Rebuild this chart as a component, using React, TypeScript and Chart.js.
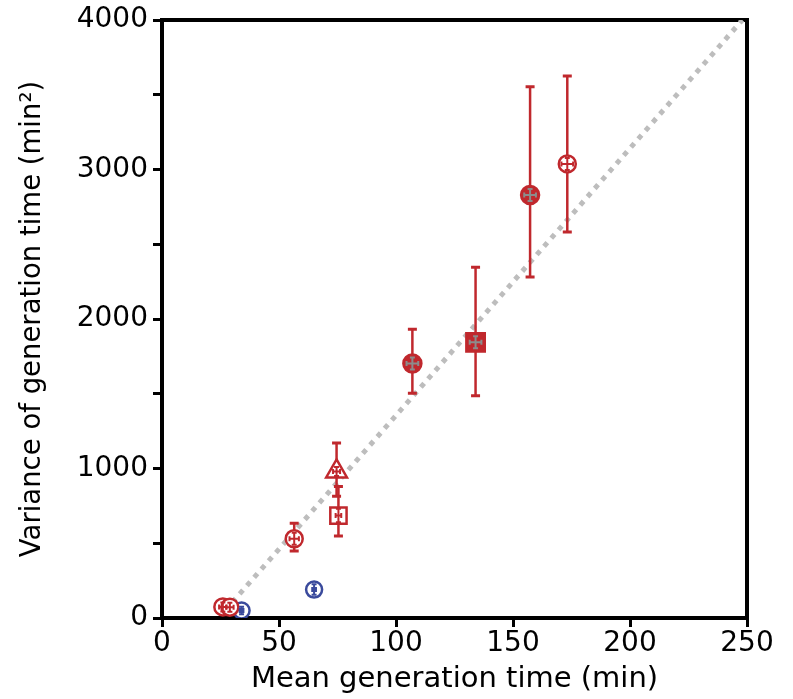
import React, { useEffect, useRef } from 'react';
import { Chart, registerables } from 'chart.js';

Chart.register(...registerables);

const RED = '#c0282d';
const BLUE = '#3a4a9c';
const INNER_GRAY = '#8c8c8c';
const LINE_GRAY = '#bdbdbd';

// Guide line (dashed)
const guideX = [27, 248];
const guideY = [50, 4000];

// Red open circles
const redOpenCircleX = [26, 29, 56.5, 173.2];
const redOpenCircleY = [74, 72, 530, 3037];
const redOpenCircleLo = [45, 45, 448, 2582];
const redOpenCircleHi = [105, 100, 633, 3625];
const redOpenCircleXErr = [1.6, 1.6, 2.0, 2.5];
const redOpenCircleInErr = [30, 30, 40, 40];

// Red filled circles
const redFilledCircleX = [107, 157.3];
const redFilledCircleY = [1703, 2829];
const redFilledCircleLo = [1503, 2281];
const redFilledCircleHi = [1931, 3554];
const redFilledCircleXErr = [2.5, 2.5];
const redFilledCircleInErr = [40, 40];

// Red filled square
const redFilledSquareX = [134];
const redFilledSquareY = [1844];
const redFilledSquareLo = [1487];
const redFilledSquareHi = [2346];
const redFilledSquareXErr = [2.5];
const redFilledSquareInErr = [40];

// Red open square
const redOpenSquareX = [75.4];
const redOpenSquareY = [685];
const redOpenSquareLo = [548];
const redOpenSquareHi = [880];
const redOpenSquareXErr = [1.2];
const redOpenSquareInErr = [45];

// Red open triangle
const redTriangleX = [74.6];
const redTriangleY = [980];
const redTriangleLo = [815];
const redTriangleHi = [1170];
const redTriangleXErr = [1.5];
const redTriangleInErr = [30];

// Blue open circles
const blueCircleX = [34, 65];
const blueCircleY = [50, 190];
const blueCircleLo = [30, 160];
const blueCircleHi = [70, 220];
const blueCircleXErr = [0.8, 0.8];
const blueCircleInErr = [25, 35];

const xTickStep = 50;
const yTickStep = 500;
const yLabelStep = 1000;

function pts(xs: number[], ys: number[]) {
  return xs.map((x, i) => ({ x, y: ys[i] }));
}

function markerSet(
  xs: number[], ys: number[], lo: number[], hi: number[], xErr: number[], inErr: number[],
  style: string, radius: number, color: string, filled: boolean
) {
  return {
    type: 'scatter',
    data: pts(xs, ys),
    pointStyle: style,
    pointRadius: radius,
    pointHoverRadius: radius,
    borderWidth: 2.5,
    borderColor: color,
    backgroundColor: filled ? color : '#ffffff',
    errLo: lo,
    errHi: hi,
    errX: xErr,
    errIn: inErr,
    errColor: color,
    innerColor: filled ? INNER_GRAY : color,
    order: 1,
  };
}

const frameAndBars = {
  id: 'frameAndBars',
  beforeDatasetsDraw(chart: any) {
    const { ctx, chartArea } = chart;
    ctx.save();
    ctx.strokeStyle = '#000';
    ctx.lineWidth = 4;
    ctx.strokeRect(chartArea.left, chartArea.top, chartArea.right - chartArea.left, chartArea.bottom - chartArea.top);
    ctx.restore();
  },
  afterDatasetDraw(chart: any, args: any) {
    if (args.index !== 0) return;
    const { ctx } = chart;
    const xs = chart.scales.x;
    const ys = chart.scales.y;
    ctx.save();
    ctx.lineCap = 'butt';
    chart.data.datasets.forEach((ds: any) => {
      if (!ds.errLo) return;
      ctx.strokeStyle = ds.errColor;
      ds.data.forEach((p: any, i: number) => {
        const px = xs.getPixelForValue(p.x);
        const top = ys.getPixelForValue(ds.errHi[i]);
        const bot = ys.getPixelForValue(ds.errLo[i]);
        ctx.lineWidth = 2.5;
        ctx.beginPath();
        ctx.moveTo(px, top);
        ctx.lineTo(px, bot);
        ctx.stroke();
        ctx.lineWidth = 3;
        ctx.beginPath();
        ctx.moveTo(px - 4.5, top);
        ctx.lineTo(px + 4.5, top);
        ctx.moveTo(px - 4.5, bot);
        ctx.lineTo(px + 4.5, bot);
        ctx.stroke();
      });
    });
    ctx.restore();
  },
  afterDatasetsDraw(chart: any) {
    const { ctx } = chart;
    const xs = chart.scales.x;
    const ys = chart.scales.y;
    ctx.save();
    chart.data.datasets.forEach((ds: any) => {
      if (!ds.errLo) return;
      ctx.strokeStyle = ds.innerColor;
      ctx.lineWidth = 2;
      ds.data.forEach((p: any, i: number) => {
        const px = xs.getPixelForValue(p.x);
        const py = ys.getPixelForValue(p.y);
        const l = xs.getPixelForValue(p.x - ds.errX[i]);
        const r = xs.getPixelForValue(p.x + ds.errX[i]);
        const t = ys.getPixelForValue(p.y + ds.errIn[i]);
        const b = ys.getPixelForValue(p.y - ds.errIn[i]);
        ctx.beginPath();
        ctx.moveTo(l, py); ctx.lineTo(r, py);
        ctx.moveTo(px, t); ctx.lineTo(px, b);
        ctx.moveTo(l, py - 2.5); ctx.lineTo(l, py + 2.5);
        ctx.moveTo(r, py - 2.5); ctx.lineTo(r, py + 2.5);
        ctx.moveTo(px - 2.5, t); ctx.lineTo(px + 2.5, t);
        ctx.moveTo(px - 2.5, b); ctx.lineTo(px + 2.5, b);
        ctx.stroke();
      });
    });
    ctx.restore();
  },
};

export default function App() {
  const ref = useRef<HTMLCanvasElement | null>(null);

  useEffect(() => {
    if (!ref.current) return;
    const font = 'DejaVu Sans';
    const chart = new Chart(ref.current, {
      type: 'scatter',
      data: {
        datasets: [
          {
            type: 'line',
            data: pts(guideX, guideY),
            borderColor: LINE_GRAY,
            borderWidth: 5,
            borderDash: [5, 6],
            pointRadius: 0,
            fill: false,
            showLine: true,
            order: 10,
          } as any,
          markerSet(redOpenCircleX, redOpenCircleY, redOpenCircleLo, redOpenCircleHi, redOpenCircleXErr, redOpenCircleInErr, 'circle', 8.5, RED, false),
          markerSet(redFilledCircleX, redFilledCircleY, redFilledCircleLo, redFilledCircleHi, redFilledCircleXErr, redFilledCircleInErr, 'circle', 9, RED, true),
          markerSet(redFilledSquareX, redFilledSquareY, redFilledSquareLo, redFilledSquareHi, redFilledSquareXErr, redFilledSquareInErr, 'rect', 13, RED, true),
          markerSet(redOpenSquareX, redOpenSquareY, redOpenSquareLo, redOpenSquareHi, redOpenSquareXErr, redOpenSquareInErr, 'rect', 11.5, RED, false),
          markerSet(redTriangleX, redTriangleY, redTriangleLo, redTriangleHi, redTriangleXErr, redTriangleInErr, 'triangle', 12, RED, false),
          markerSet(blueCircleX, blueCircleY, blueCircleLo, blueCircleHi, blueCircleXErr, blueCircleInErr, 'circle', 8, BLUE, false),
        ] as any,
      },
      options: {
        animation: false,
        responsive: false,
        maintainAspectRatio: false,
        layout: { padding: { top: 20, right: 46, left: 0, bottom: 0 } },
        plugins: {
          legend: { display: false },
          tooltip: { enabled: false },
        },
        scales: {
          x: {
            type: 'linear',
            min: 0,
            max: 250,
            border: { display: false },
            grid: {
              drawOnChartArea: false,
              drawTicks: true,
              tickLength: 9,
              tickWidth: 3,
              tickColor: '#000',
            },
            ticks: {
              stepSize: xTickStep,
              color: '#000',
              padding: 3,
              font: { family: font, size: 28, lineHeight: 1 },
              maxRotation: 0,
            },
            title: {
              display: true,
              text: 'Mean generation time (min)',
              color: '#000',
              font: { family: font, size: 29, lineHeight: 1.2 },
              padding: { top: 0, bottom: 2 },
            },
            afterFit: (s: any) => { s.height = 81; },
          },
          y: {
            type: 'linear',
            min: 0,
            max: 4000,
            border: { display: false },
            grid: {
              drawOnChartArea: false,
              drawTicks: true,
              tickLength: 9,
              tickWidth: 3,
              tickColor: '#000',
            },
            ticks: {
              stepSize: yTickStep,
              autoSkip: false,
              color: '#000',
              padding: 5,
              font: { family: font, size: 28, lineHeight: 1 },
              callback: (v: any) => (Number(v) % yLabelStep === 0 ? String(v) : ''),
            },
            title: {
              display: true,
              text: 'Variance of generation time (min²)',
              color: '#000',
              font: { family: font, size: 27.5, lineHeight: 1.2 },
              padding: { top: 16, bottom: 0 },
            },
            afterFit: (s: any) => { s.width = 162; },
          },
        },
      } as any,
      plugins: [frameAndBars],
    });
    return () => chart.destroy();
  }, []);

  return (
    <div style={{ position: 'absolute', left: 0, top: 0, width: 793, height: 699, background: '#fff' }}>
      <canvas ref={ref} width={793} height={699} style={{ width: 793, height: 699, display: 'block' }} />
    </div>
  );
}
